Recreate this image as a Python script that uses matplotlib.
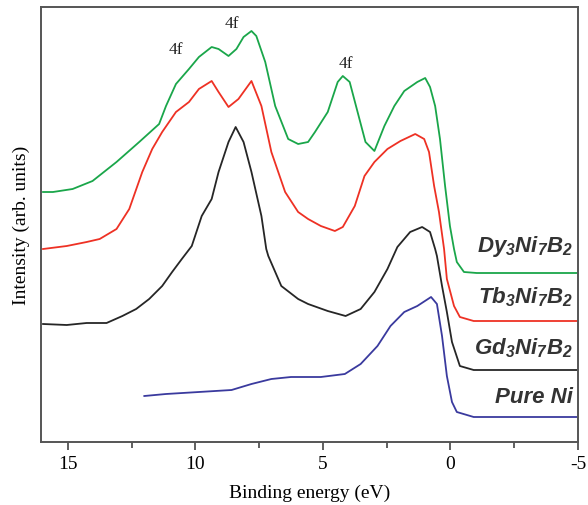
import numpy as np
import matplotlib
matplotlib.use('Agg')
import matplotlib.pyplot as plt
from matplotlib.ticker import MultipleLocator

plt.rcParams['axes.unicode_minus'] = False
plt.rcParams['mathtext.fontset'] = 'custom'
plt.rcParams['mathtext.rm'] = 'Liberation Sans:bold:italic'
plt.rcParams['mathtext.it'] = 'Liberation Sans:bold:italic'
plt.rcParams['mathtext.bf'] = 'Liberation Sans:bold:italic'
plt.rcParams['mathtext.default'] = 'it'

# binding energy (eV) / intensity (arb. units)
dy_e = [15.97, 15.58, 14.81, 14.03, 13.09, 12.20, 11.42, 11.15, 10.76, 10.25, 9.86, 9.36, 9.09, 8.70,
        8.39, 8.11, 7.80, 7.61, 7.26, 6.87, 6.36, 5.97, 5.58, 5.31, 4.81, 4.42, 4.22, 3.95, 3.64, 3.33,
        2.98, 2.59, 2.20, 1.81, 1.30, 0.99, 0.80, 0.60, 0.41, 0.21, 0.02, -0.14, -0.25, -0.53, -1.03, -4.95]
dy_i = [250, 250, 253, 261, 280, 300, 318, 336, 358, 373, 385, 395, 393, 386,
        393, 405, 411, 406, 380, 336, 303, 298, 300, 310, 330, 360, 366, 360, 330, 300,
        291, 316, 336, 351, 360, 364, 355, 336, 303, 256, 216, 193, 180, 170, 169, 169]

tb_e = [15.97, 15.04, 14.26, 13.75, 13.09, 12.59, 12.08, 11.69, 11.30, 10.76, 10.25, 9.86, 9.36, 9.09,
        8.70, 8.31, 7.80, 7.41, 7.02, 6.48, 5.97, 5.58, 5.08, 4.53, 4.22, 3.75, 3.37, 2.98, 2.47, 1.96,
        1.38, 1.03, 0.84, 0.64, 0.45, 0.25, 0.14, -0.14, -0.37, -0.91, -4.95]
tb_i = [193, 196, 200, 203, 213, 233, 270, 293, 310, 330, 340, 353, 361, 350,
        335, 343, 361, 336, 290, 250, 230, 223, 216, 211, 215, 236, 266, 280, 293, 301,
        308, 303, 290, 256, 230, 193, 163, 136, 125, 121, 121]

gd_e = [15.97, 15.04, 14.26, 13.48, 12.86, 12.32, 11.81, 11.30, 10.91, 10.53, 10.14, 9.75, 9.36, 9.09,
        8.70, 8.42, 8.11, 7.80, 7.41, 7.22, 7.14, 6.63, 5.97, 5.58, 4.81, 4.11, 3.52, 2.98, 2.47, 2.08,
        1.58, 1.11, 0.80, 0.60, 0.53, 0.33, 0.14, -0.06, -0.37, -0.91, -4.95]
gd_i = [118, 117, 119, 119, 126, 133, 143, 156, 170, 183, 196, 226, 243, 270,
        300, 315, 300, 270, 226, 193, 186, 156, 143, 138, 131, 126, 133, 150, 173, 195,
        210, 215, 210, 193, 186, 156, 130, 100, 76, 72, 72]

ni_e = [12.00, 11.15, 9.86, 8.58, 7.80, 7.02, 6.25, 5.08, 4.14, 3.52, 2.86, 2.35, 1.81, 1.30,
        0.76, 0.53, 0.33, 0.14, -0.06, -0.25, -0.91, -4.95]
ni_i = [46, 48, 50, 52, 58, 63, 65, 65, 68, 78, 96, 116, 130, 136,
        145, 138, 106, 66, 40, 30, 25, 25]

labels = ['Dy$_3$Ni$_7$B$_2$', 'Tb$_3$Ni$_7$B$_2$', 'Gd$_3$Ni$_7$B$_2$', 'Pure Ni']
label_y = [196, 146, 95, 45]
peaks_e = [10.76, 8.58, 4.11]
peaks_i = [385, 411, 371]

fig = plt.figure(figsize=(5.88, 5.06), dpi=100)
ax = fig.add_axes([41/588, 63/506, 537/588, 435/506])

ax.plot(dy_e, dy_i, color='#1aa64a', lw=1.3)
ax.plot(tb_e, tb_i, color='#ee3124', lw=1.3)
ax.plot(gd_e, gd_i, color='#262626', lw=1.3)
ax.plot(ni_e, ni_i, color='#3a3a9e', lw=1.3)

for lab, y in zip(labels, label_y):
    ax.text(-4.8, y, lab, ha='right', va='center', fontsize=16, fontweight='bold',
            fontstyle='italic', family='Liberation Sans', color='#333333')

for e, i in zip(peaks_e, peaks_i):
    ax.text(e, i, '4f', ha='center', va='bottom', fontsize=12.5, family='Liberation Serif',
            color='#222222')

ax.set_xlim(16.05, -5)
ax.set_ylim(0, 435)
ax.set_yticks([])
ax.xaxis.set_major_locator(MultipleLocator(5))
ax.xaxis.set_minor_locator(MultipleLocator(2.5))
ax.tick_params(axis='x', which='major', length=6, width=1.2, color='#444444')
ax.tick_params(axis='x', which='minor', length=4, width=1.2, color='#444444')
for lbl in ax.get_xticklabels():
    lbl.set_family('Liberation Serif')
    lbl.set_fontsize(14)
for s in ax.spines.values():
    s.set_color('#555555')
    s.set_linewidth(1.4)

ax.set_xlabel('Binding energy (eV)', family='Liberation Serif', fontsize=14, labelpad=8)
ax.set_ylabel('Intensity (arb. units)', family='Liberation Serif', fontsize=14, labelpad=8)

fig.savefig('out.png', dpi=100)
